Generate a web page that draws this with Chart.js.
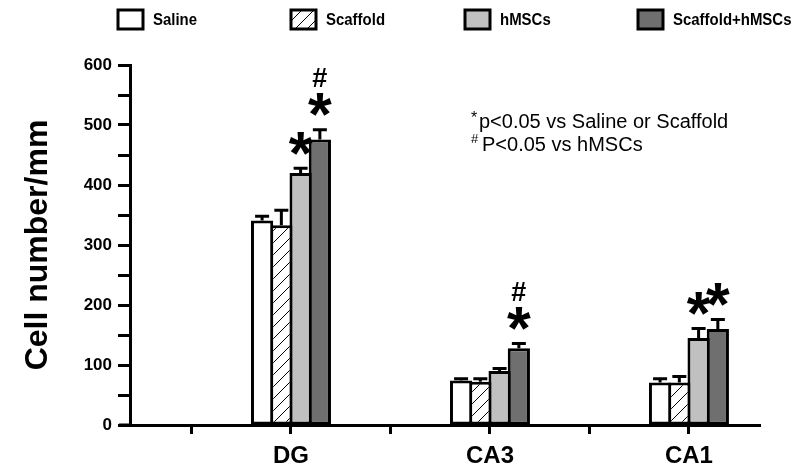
<!DOCTYPE html>
<html><head><meta charset="utf-8">
<script src="https://cdn.jsdelivr.net/npm/chart.js@4/dist/chart.umd.min.js"></script>
<style>html,body{margin:0;padding:0;background:#fff}</style>
</head><body>
<canvas id="c" width="800" height="474"></canvas>
<script>
// ---- data ----
const categories = ['DG', 'CA3', 'CA1'];
const seriesNames = ['Saline', 'Scaffold', 'hMSCs', 'Scaffold+hMSCs'];
const saline = [341, 74, 71];
const scaffold = [333, 72, 71];
const hMSCs = [420, 90, 145];
const combined = [476, 128, 160];
const salineErr = [7, 3, 6];
const scaffoldErr = [25, 5, 10];
const hMSCsErr = [8, 4, 16];
const combinedErr = [16, 8, 16];
const yTickValues = [0, 50, 100, 150, 200, 250, 300, 350, 400, 450, 500, 550, 600];
const yTickLabels = [0, 100, 200, 300, 400, 500, 600];
// significance marks: [seriesIndex, categoryIndex]
const starMarks = [[2, 0], [3, 0], [3, 1], [2, 2], [3, 2]];
const hashMarks = [[3, 0], [3, 1]];
const noteLines = [['*', 'p<0.05 vs Saline or Scaffold'], ['#', 'P<0.05 vs hMSCs']];

const SANS = "'Liberation Sans', Arial, sans-serif";

const canvas = document.getElementById('c');
const ctx0 = canvas.getContext('2d');
function makeHatch() {
  const c = document.createElement('canvas');
  c.width = 12; c.height = 12;
  const g = c.getContext('2d');
  g.fillStyle = '#fff'; g.fillRect(0, 0, 12, 12);
  g.strokeStyle = '#000'; g.lineWidth = 1;
  g.beginPath();
  g.moveTo(0, 12); g.lineTo(12, 0);
  g.moveTo(-3, 3); g.lineTo(3, -3);
  g.moveTo(9, 15); g.lineTo(15, 9);
  g.stroke();
  return ctx0.createPattern(c, 'repeat');
}
const fills = ['#ffffff', makeHatch(), '#c0c0c0', '#6f6f6f'];
const values = [saline, scaffold, hMSCs, combined];
const errors = [salineErr, scaffoldErr, hMSCsErr, combinedErr];
const catX = i => 2 * (i + 1);

const datasets = seriesNames.map((name, k) => ({
  label: name,
  data: values[k].map((v, i) => ({ x: catX(i), y: v })),
  errs: errors[k],
  backgroundColor: fills[k],
  borderColor: '#000',
  borderWidth: 3,
  borderSkipped: false,
  categoryPercentage: 0.774,
  barPercentage: 1.155
}));

const overlay = {
  id: 'overlay',
  afterDatasetsDraw(chart) {
    const ctx = chart.ctx, ys = chart.scales.y;
    ctx.save();
    // x-axis extension left of y axis
    ctx.strokeStyle = '#000'; ctx.lineWidth = 3;
    ctx.beginPath();
    ctx.moveTo(chart.chartArea.left - 11, chart.chartArea.bottom);
    ctx.lineTo(chart.chartArea.left, chart.chartArea.bottom);
    ctx.stroke();
    // error bars
    const caps = {};
    chart.data.datasets.forEach((ds, k) => {
      const meta = chart.getDatasetMeta(k);
      meta.data.forEach((el, i) => {
        const v = ds.data[i].y + ds.errs[i];
        const yc = ys.getPixelForValue(v);
        caps[k + '_' + i] = { x: el.x, y: yc };
        ctx.lineWidth = 3; ctx.strokeStyle = '#000';
        ctx.beginPath();
        ctx.moveTo(el.x, el.y); ctx.lineTo(el.x, yc);
        ctx.moveTo(el.x - 7, yc); ctx.lineTo(el.x + 7, yc);
        ctx.stroke();
      });
    });
    // significance marks
    ctx.fillStyle = '#000';
    ctx.textAlign = 'center';
    ctx.textBaseline = 'alphabetic';
    starMarks.forEach(([k, i]) => {
      const c = caps[k + '_' + i];
      ctx.font = "bold 61px " + SANS;
      ctx.fillText('*', c.x, c.y - 22 + 0.45 * 61);
    });
    hashMarks.forEach(([k, i]) => {
      const c = caps[k + '_' + i];
      ctx.font = "bold 27px " + SANS;
      ctx.textBaseline = 'middle';
      ctx.fillText('#', c.x, c.y - 50);
      ctx.textBaseline = 'alphabetic';
    });
    // note text
    ctx.textAlign = 'left';
    noteLines.forEach(([sym, txt], n) => {
      const base = 128 + n * 23;
      ctx.font = (n === 0 ? "16px " : "13px ") + SANS;
      ctx.fillText(sym, 471, base - (n === 0 ? 5 : 8));
      ctx.font = "20px " + SANS;
      ctx.fillText(txt, n === 0 ? 479 : 482, base);
    });
    // legend
    const lx = [118, 291, 465, 638];
    chart.data.datasets.forEach((ds, k) => {
      const x = lx[k], y = 10, w = 25, h = 19;
      ctx.fillStyle = ds.backgroundColor;
      ctx.fillRect(x, y, w, h);
      ctx.lineWidth = 3; ctx.strokeStyle = '#000';
      ctx.strokeRect(x, y, w, h);
      ctx.fillStyle = '#000';
      ctx.font = "bold 17px " + SANS;
      ctx.textBaseline = 'middle';
      ctx.save();
      ctx.translate(x + w + 10, y + h / 2 + 1);
      ctx.scale(0.88, 1);
      ctx.fillText(ds.label, 0, 0);
      ctx.restore();
    });
    ctx.restore();
  }
};

new Chart(canvas, {
  type: 'bar',
  data: { datasets },
  plugins: [overlay],
  options: {
    responsive: false,
    animation: false,
    devicePixelRatio: 1,
    layout: { padding: { top: 65, right: 40, left: 0, bottom: 0 } },
    plugins: { legend: { display: false }, tooltip: { enabled: false } },
    scales: {
      x: {
        type: 'linear',
        offset: false,
        min: 0.382, max: 6.714,
        afterFit: s => { s.height = 49; },
        afterBuildTicks: s => { s.ticks = [1, 2, 3, 4, 5, 6].map(v => ({ value: v })); },
        grid: { offset: false, drawOnChartArea: false, drawTicks: true, tickLength: 9, tickWidth: 3, tickColor: '#000' },
        border: { display: true, color: '#000', width: 3 },
        ticks: {
          autoSkip: false, maxRotation: 0, padding: 8, color: '#000',
          font: { family: SANS, size: 24, weight: 'bold' },
          callback: v => (v % 2 === 0 ? categories[v / 2 - 1] : '')
        }
      },
      y: {
        min: 0, max: 600,
        afterFit: s => { s.width = 130; },
        afterBuildTicks: s => { s.ticks = yTickValues.map(v => ({ value: v })); },
        grid: { drawOnChartArea: false, drawTicks: true, tickLength: 12, tickWidth: 3, tickColor: '#000' },
        border: { display: true, color: '#000', width: 3 },
        ticks: {
          autoSkip: false, padding: 6, color: '#000',
          font: { family: SANS, size: 17, weight: 'bold' },
          callback: v => (yTickLabels.includes(v) ? String(v) : '')
        },
        title: {
          display: true, text: 'Cell number/mm', color: '#000',
          font: { family: SANS, size: 32, weight: 'bold' },
          padding: { top: 19, bottom: 0 }
        }
      }
    }
  }
});
</script>
</body></html>
